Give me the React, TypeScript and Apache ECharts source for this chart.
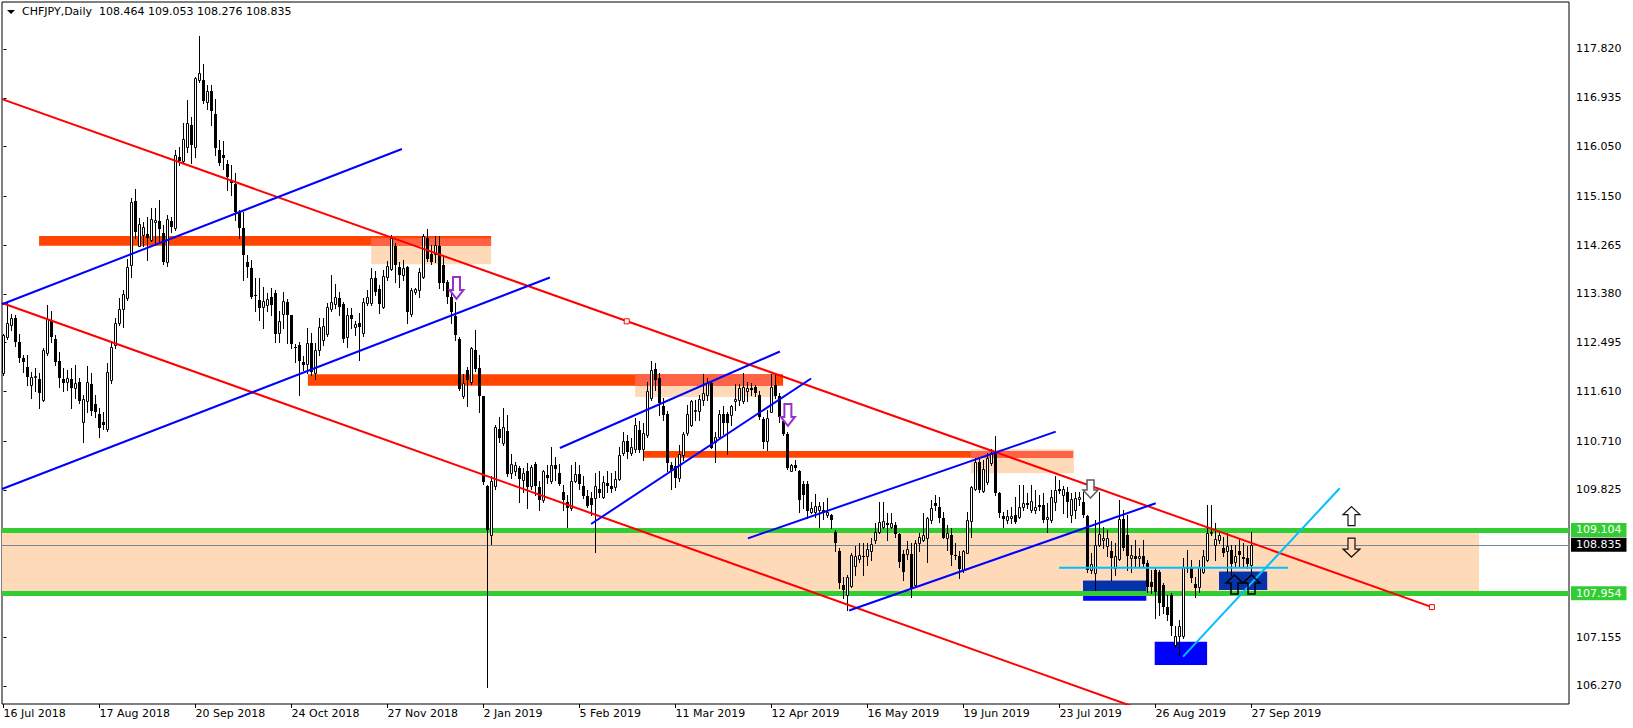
import React, { useEffect, useRef } from "react";
import * as echarts from "echarts";

// ---------- header ----------
const SYMBOL = "CHFJPY,Daily";
const LAST_OHLC = [108.464, 109.053, 108.276, 108.835];

// ---------- axes ----------
const X_MIN = -0.375;
const X_MAX = 391.375;
const Y_MIN = 105.943;
const Y_MAX = 118.672;
const X_TICK_INDEX = [0, 24, 48, 72, 96, 120, 144, 168, 192, 216, 240, 264, 288, 312];
const X_TICK_LABELS = [
  "16 Jul 2018", "17 Aug 2018", "20 Sep 2018", "24 Oct 2018", "27 Nov 2018", "2 Jan 2019",
  "5 Feb 2019", "11 Mar 2019", "12 Apr 2019", "16 May 2019", "19 Jun 2019", "23 Jul 2019",
  "26 Aug 2019", "27 Sep 2019",
];
const Y_TICKS = [117.82, 116.935, 116.05, 115.15, 114.265, 113.38, 112.495, 111.61, 110.71, 109.825, 108.955, 108.055, 107.155, 106.27];
const Y_LABELS = [117.82, 116.935, 116.05, 115.15, 114.265, 113.38, 112.495, 111.61, 110.71, 109.825, 107.155, 106.27];

// ---------- daily candles [open, high, low, close] ----------
const OHLC: number[][] = [
  // 0
  [111.94, 112.66, 111.91, 112.63], [112.60, 113.25, 112.57, 112.85], [112.82, 113.01, 112.73, 112.94], [112.95, 113.00, 112.44, 112.51], [112.50, 112.66, 112.15, 112.22],
  [112.22, 112.28, 111.97, 112.14], [112.06, 112.28, 111.73, 111.87], [111.72, 111.97, 111.50, 111.88], [111.87, 112.03, 111.61, 111.89], [111.84, 111.94, 111.31, 111.58],
  // 10
  [111.46, 112.39, 111.44, 112.36], [112.30, 113.18, 112.27, 112.92], [112.91, 113.06, 112.51, 112.59], [112.57, 112.63, 112.09, 112.14], [112.16, 112.33, 111.70, 111.86],
  [111.84, 112.03, 111.61, 111.76], [111.78, 112.00, 111.64, 111.85], [111.84, 112.03, 111.31, 111.68], [111.68, 112.09, 111.49, 111.76], [111.78, 111.85, 111.40, 111.44],
  // 20
  [111.05, 111.55, 110.70, 111.47], [111.44, 112.08, 111.24, 111.78], [111.74, 111.94, 111.18, 111.26], [111.38, 111.55, 111.15, 111.23], [111.21, 111.31, 110.79, 110.95],
  [111.06, 111.24, 110.93, 111.01], [110.93, 112.12, 110.89, 111.96], [111.82, 112.48, 111.76, 112.42], [112.45, 112.94, 112.40, 112.85], [112.85, 113.30, 112.82, 113.11],
  // 30
  [113.11, 113.45, 112.77, 113.37], [113.31, 114.02, 113.27, 113.86], [113.90, 115.11, 113.69, 115.05], [115.06, 115.28, 114.39, 114.50], [114.25, 114.75, 114.24, 114.64],
  [114.45, 114.69, 114.25, 114.60], [114.46, 114.78, 113.99, 114.40], [114.36, 114.93, 114.34, 114.74], [114.69, 114.93, 114.27, 114.72], [114.70, 115.08, 114.33, 114.56],
  // 40
  [114.48, 114.63, 113.92, 113.96], [113.95, 114.81, 113.89, 114.74], [114.70, 114.78, 114.51, 114.60], [114.58, 115.99, 114.54, 115.89], [115.87, 116.05, 115.72, 115.78],
  [115.78, 116.47, 115.77, 116.19], [116.05, 116.90, 115.96, 116.47], [116.44, 116.59, 115.75, 116.07], [116.05, 117.32, 115.87, 117.30], [117.26, 118.06, 117.22, 117.38],
  // 50
  [117.26, 117.54, 116.84, 116.88], [116.85, 117.17, 116.74, 117.06], [117.06, 117.17, 116.44, 116.70], [116.64, 116.91, 115.90, 116.02], [115.99, 116.17, 115.72, 115.75],
  [115.90, 116.15, 115.64, 115.84], [115.73, 115.81, 115.26, 115.49], [115.42, 115.72, 115.17, 115.39], [115.38, 115.58, 114.72, 114.87], [114.87, 114.90, 114.39, 114.57],
  // 60
  [114.57, 114.86, 113.63, 114.09], [113.96, 114.09, 113.69, 113.86], [113.84, 113.99, 113.31, 113.33], [113.36, 113.67, 113.06, 113.34], [113.27, 113.66, 112.91, 113.13],
  [113.15, 113.51, 112.76, 113.25], [113.17, 113.39, 113.07, 113.29], [113.33, 113.48, 113.00, 113.17], [113.39, 113.45, 112.50, 112.65], [112.67, 113.06, 112.51, 112.89],
  // 70
  [113.01, 113.42, 112.76, 113.25], [113.24, 113.29, 112.48, 113.00], [112.99, 113.00, 112.39, 112.47], [112.42, 112.47, 112.15, 112.41], [112.45, 112.50, 111.55, 112.16],
  [112.15, 112.25, 112.00, 112.09], [112.10, 112.76, 111.94, 112.48], [112.48, 112.67, 111.91, 111.96], [111.94, 112.48, 111.84, 112.36], [112.36, 112.95, 112.27, 112.77],
  // 80
  [112.54, 112.94, 112.45, 112.79], [112.65, 113.21, 112.62, 113.15], [113.11, 113.73, 113.07, 113.24], [113.19, 113.55, 113.12, 113.33], [113.30, 113.42, 113.00, 113.15],
  [113.19, 113.24, 112.51, 112.57], [112.59, 113.12, 112.42, 113.00], [113.00, 113.12, 112.76, 112.92], [112.77, 112.88, 112.63, 112.83], [112.85, 113.03, 112.18, 112.77],
  // 90
  [112.67, 113.31, 112.62, 113.24], [113.21, 113.45, 113.18, 113.33], [113.21, 113.84, 113.18, 113.67], [113.66, 113.80, 113.36, 113.42], [113.46, 113.54, 113.03, 113.19],
  [113.15, 113.81, 113.13, 113.71], [113.69, 113.98, 113.63, 113.89], [113.83, 114.45, 113.81, 114.40], [114.25, 114.30, 113.60, 113.90], [113.86, 113.96, 113.51, 113.72],
  // 100
  [113.72, 113.99, 113.63, 113.84], [113.86, 113.89, 112.86, 113.05], [113.01, 113.49, 112.97, 113.45], [113.41, 113.49, 113.38, 113.47], [113.45, 113.84, 113.33, 113.77],
  [113.69, 114.46, 113.67, 114.42], [114.39, 114.55, 113.98, 114.01], [114.10, 114.27, 113.92, 113.96], [114.10, 114.42, 113.96, 114.27], [114.25, 114.42, 113.48, 113.57],
  // 110
  [113.90, 114.06, 113.45, 113.57], [113.59, 113.63, 113.21, 113.33], [113.33, 113.39, 112.85, 113.05], [112.97, 113.24, 112.54, 112.63], [112.56, 112.60, 111.64, 111.66],
  [111.53, 111.92, 111.50, 111.76], [112.00, 112.06, 111.35, 111.82], [111.79, 112.42, 111.74, 112.39], [112.36, 112.73, 111.98, 112.02], [112.03, 112.27, 111.24, 111.52],
  // 120
  [111.52, 111.52, 109.93, 109.96], [109.90, 109.92, 106.25, 109.10], [109.00, 110.07, 108.85, 109.98], [109.89, 111.00, 109.85, 110.97], [110.93, 111.15, 110.70, 110.76],
  [110.67, 111.31, 110.64, 110.97], [110.89, 111.18, 110.07, 110.11], [110.13, 110.47, 110.04, 110.29], [110.16, 110.33, 110.10, 110.27], [110.23, 110.25, 109.61, 110.02],
  // 130
  [110.01, 110.22, 109.79, 110.13], [110.16, 110.31, 109.49, 109.87], [109.89, 110.28, 109.84, 110.24], [110.29, 110.33, 109.73, 109.89], [109.87, 109.98, 109.46, 109.64],
  [109.64, 110.19, 109.61, 110.16], [110.10, 110.28, 109.95, 110.05], [109.98, 110.61, 109.95, 110.28], [110.27, 110.43, 110.01, 110.20], [110.13, 110.29, 109.92, 109.93],
  // 140
  [109.79, 109.92, 109.46, 109.64], [109.61, 109.73, 109.16, 109.50], [109.49, 110.28, 109.46, 109.98], [109.99, 110.33, 109.96, 110.11], [110.11, 110.28, 109.85, 109.93],
  [109.90, 110.07, 109.67, 109.72], [109.72, 109.82, 109.52, 109.54], [109.67, 109.79, 109.37, 109.55], [109.67, 110.13, 108.70, 109.90], [109.85, 110.16, 109.70, 109.76],
  // 150
  [109.70, 110.07, 109.67, 109.96], [109.95, 110.16, 109.79, 109.89], [109.89, 110.14, 109.79, 109.85], [109.87, 110.16, 109.82, 110.02], [110.02, 110.61, 110.01, 110.45],
  [110.49, 110.87, 110.46, 110.71], [110.71, 110.82, 110.40, 110.52], [110.49, 110.76, 110.46, 110.61], [110.57, 111.12, 110.52, 111.00], [110.91, 111.08, 110.51, 110.55],
  // 160
  [110.57, 111.03, 110.37, 110.85], [110.82, 111.79, 110.79, 111.61], [111.49, 112.16, 111.46, 112.00], [112.02, 112.12, 111.64, 111.82], [111.85, 111.94, 111.18, 111.40],
  [111.34, 111.49, 111.09, 111.18], [111.20, 111.26, 110.16, 110.31], [110.27, 110.34, 109.85, 110.17], [110.25, 110.40, 109.88, 110.05], [110.05, 110.64, 109.98, 110.47],
  // 170
  [110.46, 110.88, 110.37, 110.83], [110.85, 111.37, 110.82, 111.21], [111.01, 111.46, 110.99, 111.44], [111.26, 111.46, 111.09, 111.27], [111.26, 111.55, 111.09, 111.47],
  [111.46, 111.92, 111.37, 111.59], [111.55, 111.85, 111.46, 111.76], [111.76, 111.79, 110.58, 110.59], [110.69, 110.88, 110.34, 110.79], [110.79, 111.27, 110.76, 111.21],
  // 180
  [111.21, 111.35, 110.83, 111.03], [111.20, 111.23, 110.47, 111.03], [111.18, 111.37, 111.00, 111.35], [111.43, 111.74, 111.27, 111.47], [111.46, 111.74, 111.37, 111.67],
  [111.43, 111.94, 111.40, 111.70], [111.61, 111.79, 111.43, 111.68], [111.68, 111.76, 111.55, 111.64], [111.70, 111.73, 111.52, 111.58], [111.55, 111.62, 111.11, 111.14],
  // 190
  [111.11, 111.14, 110.59, 110.69], [110.71, 111.27, 110.55, 111.12], [111.24, 111.92, 111.23, 111.70], [111.73, 111.92, 111.49, 111.52], [111.52, 111.59, 111.06, 111.15],
  [111.08, 111.15, 110.82, 110.83], [110.83, 110.87, 110.20, 110.22], [110.17, 110.29, 110.16, 110.27], [110.28, 110.37, 110.19, 110.22], [110.17, 110.19, 109.43, 109.64],
  // 200
  [109.94, 109.98, 109.49, 109.73], [109.93, 109.98, 109.31, 109.44], [109.43, 109.61, 109.40, 109.50], [109.42, 109.75, 109.34, 109.54], [109.46, 109.61, 109.16, 109.54],
  [109.46, 109.61, 109.30, 109.40], [109.37, 109.67, 109.34, 109.43], [109.37, 109.38, 109.14, 109.28], [109.07, 109.10, 108.71, 108.86], [108.71, 108.77, 108.04, 108.13],
  // 210
  [108.10, 108.25, 107.86, 108.01], [107.92, 108.28, 107.65, 108.25], [108.08, 108.68, 108.07, 108.65], [108.45, 108.80, 108.28, 108.62], [108.58, 108.86, 108.52, 108.65],
  [108.63, 108.87, 108.28, 108.60], [108.62, 108.87, 108.46, 108.75], [108.71, 108.95, 108.55, 108.84], [108.91, 109.22, 108.86, 109.07], [109.07, 109.61, 109.04, 109.25],
  // 220
  [109.16, 109.61, 109.13, 109.27], [109.22, 109.40, 108.92, 109.19], [109.16, 109.40, 109.13, 109.22], [109.19, 109.25, 108.98, 109.03], [109.03, 109.05, 108.43, 108.51],
  [108.66, 108.74, 108.19, 108.34], [108.66, 108.89, 108.58, 108.75], [108.66, 108.87, 107.89, 108.02], [108.10, 108.92, 108.07, 108.86], [108.86, 109.04, 108.71, 108.98],
  // 230
  [108.92, 109.40, 108.89, 109.01], [108.95, 109.34, 108.52, 109.31], [109.28, 109.64, 109.22, 109.49], [109.58, 109.73, 109.46, 109.54], [109.52, 109.70, 109.25, 109.31],
  [109.31, 109.43, 108.95, 108.95], [108.95, 109.19, 108.74, 109.05], [109.01, 109.13, 108.46, 108.65], [108.65, 108.86, 108.58, 108.62], [108.63, 108.71, 108.22, 108.39],
  // 240
  [108.37, 108.74, 108.33, 108.71], [108.69, 109.43, 108.68, 109.28], [109.27, 109.90, 108.98, 109.87], [109.85, 110.40, 109.82, 110.34], [110.34, 110.40, 109.79, 109.82],
  [109.81, 110.37, 109.79, 110.20], [109.96, 110.49, 109.94, 110.40], [110.31, 110.56, 110.28, 110.50], [110.50, 110.80, 109.73, 109.76], [109.76, 109.79, 109.34, 109.40],
  // 250
  [109.35, 109.43, 109.16, 109.29], [109.28, 109.46, 109.22, 109.35], [109.31, 109.52, 109.22, 109.35], [109.37, 109.70, 109.22, 109.25], [109.34, 109.91, 109.31, 109.52],
  [109.51, 109.91, 109.46, 109.58], [109.58, 109.76, 109.49, 109.55], [109.46, 109.91, 109.43, 109.63], [109.46, 109.82, 109.40, 109.52], [109.55, 109.73, 109.46, 109.52],
  // 260
  [109.55, 109.76, 109.25, 109.28], [109.29, 109.58, 109.07, 109.33], [109.28, 109.82, 109.25, 109.69], [109.61, 110.07, 109.46, 109.82], [109.85, 110.01, 109.76, 109.81],
  [109.73, 109.90, 109.40, 109.84], [109.79, 109.88, 109.34, 109.61], [109.37, 109.76, 109.25, 109.66], [109.46, 109.79, 109.31, 109.67], [109.66, 109.79, 109.55, 109.69],
  // 270
  [109.61, 109.79, 109.34, 109.37], [109.35, 109.37, 108.34, 108.37], [108.37, 108.68, 108.31, 108.48], [108.31, 109.28, 108.01, 108.83], [108.83, 109.79, 108.80, 109.03],
  [108.92, 109.16, 108.77, 108.95], [108.80, 109.10, 108.62, 108.95], [108.71, 108.89, 108.19, 108.59], [108.40, 108.86, 108.28, 108.62], [108.57, 109.64, 108.56, 109.29],
  // 280
  [109.29, 109.46, 108.74, 108.77], [109.01, 109.37, 108.37, 108.62], [108.59, 108.83, 108.34, 108.65], [108.63, 108.92, 108.43, 108.57], [108.59, 108.77, 108.43, 108.63],
  [108.62, 108.92, 108.43, 108.48], [108.50, 108.56, 107.98, 108.07], [108.16, 108.37, 107.95, 108.06], [108.37, 108.40, 107.50, 107.98], [108.34, 108.37, 107.56, 107.77],
  // 290
  [108.10, 108.13, 107.59, 107.71], [107.71, 107.92, 107.47, 107.56], [107.92, 107.95, 107.20, 107.35], [107.01, 107.35, 106.98, 107.17], [107.17, 107.47, 106.83, 107.35],
  [107.17, 108.59, 107.14, 108.42], [108.40, 108.74, 108.34, 108.43], [108.42, 108.56, 108.16, 108.22], [108.12, 108.25, 107.89, 108.04], [108.07, 108.56, 107.98, 108.43],
  // 300
  [108.34, 108.74, 108.31, 108.62], [108.56, 109.55, 108.53, 109.05], [109.04, 109.55, 109.01, 109.07], [108.83, 109.22, 108.56, 108.93], [108.92, 109.07, 108.86, 109.01],
  [108.78, 108.98, 108.62, 108.69], [108.71, 109.04, 108.34, 108.80], [108.74, 108.83, 108.28, 108.49], [108.51, 108.83, 108.43, 108.63], [108.71, 108.95, 108.43, 108.65],
  // 310
  [108.60, 108.86, 108.43, 108.57], [108.59, 108.80, 108.40, 108.49], [108.464, 109.053, 108.276, 108.835],
];

// ---------- horizontal levels ----------
const LEVEL_UPPER = 109.104;
const LEVEL_LOWER = 107.954;
const BID = 108.835;

// ---------- drawn objects, in [bar index, price] ----------
const RED_LINES = [
  [-0.375, 116.91, 357.1, 107.70],
  [-0.375, 113.214, 290, 105.70],
];
const RED_ANCHORS = [[155.8, 112.882], [357.1, 107.70]];
const BLUE_LINES = [
  [-0.375, 113.191, 99.6, 116.007],
  [-0.375, 109.842, 136.6, 113.677],
  [139.1, 110.585, 194.1, 112.335],
  [146.9, 109.207, 201.9, 111.845],
  [186.1, 108.946, 263.05, 110.881],
  [211.4, 107.639, 288.05, 109.583],
];
const CYAN_LINES = [
  [294.9, 106.801, 334.05, 109.855],
  [263.9, 108.415, 321.1, 108.415],
];
// zones: [fromBar, toBar, topPrice, bottomPrice]
const ORANGE_ZONES = [
  [8.9, 121.9, 114.429, 114.253],
  [76.1, 194.9, 111.922, 111.715],
  [160.05, 267.4, 110.531, 110.409],
];
const PEACH_ZONES = [
  [91.9, 121.9, 114.388, 113.916],
  [157.9, 192.9, 111.922, 111.51],
  [241.8, 267.6, 110.562, 110.127],
  [-0.375, 368.9, LEVEL_UPPER, LEVEL_LOWER],
];
const BLUE_ZONES = [
  [269.9, 285.7, 108.179, 107.817],
  [287.8, 300.9, 107.073, 106.651],
  [303.9, 315.9, 108.342, 108.01],
];
// arrows: [bar index, price at arrow top]
const PURPLE_DOWN_ARROWS = [[113.25, 113.686], [196.1, 111.383]];
const GRAY_DOWN_ARROWS = [[271.75, 110.005]];
const BLACK_UP_ARROWS = [[307.75, 108.282], [312.0, 108.282]];
const WHITE_UP_ARROWS = [[337.0, 109.521]];
const PEACH_DOWN_ARROWS = [[337.0, 108.952]];

const FONT = "DejaVu Sans";
const C_ORANGE = "#FF4500";
const C_PEACH = "#FFDAB9";
const C_TOMATO = "#FF6347";
const C_BLUE = "#0000FF";
const C_DARKBLUE = "#0633AA";
const C_GREEN = "#32CD32";
const C_CYAN = "#00BFFF";
const C_RED = "#FF0000";

function intersect(a: number[], b: number[]) {
  const x1 = Math.max(a[0], b[0]);
  const x2 = Math.min(a[1], b[1]);
  const top = Math.min(a[2], b[2]);
  const bot = Math.max(a[3], b[3]);
  return x1 < x2 && bot < top ? [x1, x2, top, bot] : null;
}

function overlaps(list: number[][], others: number[][]) {
  const out: number[][] = [];
  list.forEach((a) => others.forEach((b) => {
    const r = intersect(a, b);
    if (r) out.push(r);
  }));
  return out;
}

function zoneSeries(data: number[][], color: string, z: number) {
  return {
    type: "custom",
    silent: true,
    z,
    clip: true,
    data,
    encode: { x: [0, 1], y: [2, 3] },
    renderItem: (_p: any, api: any) => {
      const a = api.coord([api.value(0), api.value(2)]);
      const b = api.coord([api.value(1), api.value(3)]);
      return {
        type: "rect",
        shape: { x: a[0], y: a[1], width: b[0] - a[0], height: b[1] - a[1] },
        style: { fill: color },
      };
    },
  };
}

function lineSeries(seg: number[], color: string, z: number) {
  return {
    type: "line",
    silent: true,
    z,
    symbol: "none",
    showSymbol: false,
    clip: true,
    data: [[seg[0], seg[1]], [seg[2], seg[3]]],
    lineStyle: { color, width: 2 },
  };
}

function arrowPoints(cx: number, top: number, w: number, h: number, hh: number, sw: number, up: boolean) {
  if (up) {
    return [
      [cx, top], [cx + w / 2, top + hh], [cx + sw / 2, top + hh], [cx + sw / 2, top + h],
      [cx - sw / 2, top + h], [cx - sw / 2, top + hh], [cx - w / 2, top + hh],
    ];
  }
  const b = top + h;
  return [
    [cx, b], [cx + w / 2, b - hh], [cx + sw / 2, b - hh], [cx + sw / 2, top],
    [cx - sw / 2, top], [cx - sw / 2, b - hh], [cx - w / 2, b - hh],
  ];
}

function arrowSeries(data: number[][], up: boolean, size: number[], stroke: string, fill: string, lw: number) {
  return {
    type: "custom",
    silent: true,
    z: 12,
    data,
    encode: { x: 0, y: 1 },
    renderItem: (_p: any, api: any) => {
      const c = api.coord([api.value(0), api.value(1)]);
      return {
        type: "polygon",
        shape: { points: arrowPoints(c[0], c[1], size[0], size[1], size[2], size[3], up) },
        style: { fill, stroke, lineWidth: lw },
      };
    },
  };
}

function renderCandle(_p: any, api: any) {
  const i = api.value(0);
  const o = api.value(1), h = api.value(2), l = api.value(3), c = api.value(4);
  const ph = api.coord([i, h]);
  const pl = api.coord([i, l]);
  const po = api.coord([i, o]);
  const pc = api.coord([i, c]);
  const x = Math.floor(ph[0]) + 0.5;
  const yH = Math.round(ph[1]);
  const yL = Math.round(pl[1]);
  const yTop = Math.round(Math.min(po[1], pc[1]));
  const yBot = Math.round(Math.max(po[1], pc[1]));
  const children: any[] = [
    { type: "line", shape: { x1: x, y1: yH, x2: x, y2: yL + 1 }, style: { stroke: "#000", lineWidth: 1 } },
  ];
  if (c >= o) {
    children.push({
      type: "rect",
      shape: { x: x - 1, y: yTop + 0.5, width: 2, height: Math.max(yBot - yTop, 1) },
      style: { fill: "#fff", stroke: "#000", lineWidth: 1 },
    });
  } else {
    children.push({
      type: "rect",
      shape: { x: x - 1.5, y: yTop, width: 3, height: Math.max(yBot - yTop, 1) },
      style: { fill: "#000" },
    });
  }
  return { type: "group", children };
}

function levelLabel(value: number, bg: string) {
  return {
    show: true,
    position: "end",
    distance: 2,
    formatter: value.toFixed(3),
    color: "#fff",
    backgroundColor: bg,
    padding: [1, 5, 1, 5],
    fontFamily: FONT,
    fontSize: 11,
    lineHeight: 12,
  };
}

export default function App() {
  const ref = useRef<HTMLDivElement | null>(null);

  useEffect(() => {
    if (!ref.current) return;
    const chart = echarts.init(ref.current, undefined, { renderer: "svg" });

    const candleData = OHLC.map((d, i) => [i, d[0], d[1], d[2], d[3]]);
    const orangeOnPeach = overlaps(ORANGE_ZONES, PEACH_ZONES.slice(0, 3));
    const blueOnPeach = overlaps(BLUE_ZONES, PEACH_ZONES.slice(3));

    const series: any[] = [
      zoneSeries(PEACH_ZONES, C_PEACH, 1),
      zoneSeries(ORANGE_ZONES, C_ORANGE, 2),
      zoneSeries(orangeOnPeach, C_TOMATO, 3),
      zoneSeries(BLUE_ZONES, C_BLUE, 2),
      zoneSeries(blueOnPeach, C_DARKBLUE, 3),
      {
        type: "custom",
        silent: true,
        z: 5,
        clip: true,
        data: candleData,
        encode: { x: 0, y: [1, 2, 3, 4] },
        renderItem: renderCandle,
      },
      ...RED_LINES.map((s) => lineSeries(s, C_RED, 9)),
      ...BLUE_LINES.map((s) => lineSeries(s, C_BLUE, 9)),
      ...CYAN_LINES.map((s) => lineSeries(s, C_CYAN, 9)),
      {
        type: "scatter",
        silent: true,
        z: 11,
        symbol: "rect",
        symbolSize: 5,
        data: RED_ANCHORS,
        itemStyle: { color: "#fff", borderColor: C_RED, borderWidth: 1, opacity: 1 },
        markLine: {
          silent: true,
          symbol: ["none", "none"],
          animation: false,
          data: [
            { yAxis: BID, lineStyle: { color: "#778899", width: 1, type: "solid" }, label: levelLabel(BID, "#000") },
            { yAxis: LEVEL_UPPER, lineStyle: { color: C_GREEN, width: 5, type: "solid" }, label: levelLabel(LEVEL_UPPER, C_GREEN) },
            { yAxis: LEVEL_LOWER, lineStyle: { color: C_GREEN, width: 5, type: "solid" }, label: levelLabel(LEVEL_LOWER, C_GREEN) },
          ],
        },
      },
      arrowSeries(PURPLE_DOWN_ARROWS, false, [14, 22, 9, 7], "#9932CC", "#fff", 2),
      arrowSeries(GRAY_DOWN_ARROWS, false, [15, 18, 8, 7], "#5a5a5a", "#fff", 1.5),
      arrowSeries(BLACK_UP_ARROWS, true, [17, 19, 8, 7], "#000", "none", 1.5),
      arrowSeries(WHITE_UP_ARROWS, true, [17, 19, 8, 7], "#111", "#fff", 1.2),
      arrowSeries(PEACH_DOWN_ARROWS, false, [17, 19, 8, 7], "#111", C_PEACH, 1.2),
    ];

    chart.setOption({
      animation: false,
      backgroundColor: "#fff",
      grid: {
        show: true,
        left: 2,
        right: 64,
        top: 2,
        bottom: 24,
        borderColor: "#000",
        borderWidth: 1,
        backgroundColor: "#fff",
        containLabel: false,
        outerBoundsMode: "none",
      },
      xAxis: {
        type: "value",
        min: X_MIN,
        max: X_MAX,
        position: "bottom",
        axisLine: { show: false },
        splitLine: { show: false },
        axisTick: { show: true, customValues: X_TICK_INDEX, length: 4, lineStyle: { color: "#000" } },
        axisLabel: {
          show: true,
          customValues: X_TICK_INDEX,
          formatter: (v: number) => X_TICK_LABELS[X_TICK_INDEX.indexOf(Math.round(v))] ?? "",
          align: "left",
          margin: 4,
          color: "#000",
          fontFamily: FONT,
          fontSize: 11,
        },
      },
      yAxis: {
        type: "value",
        position: "right",
        min: Y_MIN,
        max: Y_MAX,
        scale: true,
        axisLine: { show: false },
        splitLine: { show: false },
        axisTick: { show: true, customValues: Y_TICKS, length: 3, lineStyle: { color: "#000" } },
        axisLabel: {
          show: true,
          customValues: Y_LABELS,
          formatter: (v: number) => v.toFixed(3),
          margin: 7,
          color: "#000",
          fontFamily: FONT,
          fontSize: 11,
        },
      },
      graphic: [
        { type: "polygon", silent: true, shape: { points: [[7, 10], [15, 10], [11, 14]] }, style: { fill: "#000" } },
        {
          type: "text",
          silent: true,
          x: 22,
          y: 6,
          style: {
            text: `${SYMBOL}\u00a0\u00a0${LAST_OHLC.map((v) => v.toFixed(3)).join(" ")}`,
            fill: "#000",
            fontFamily: FONT,
            fontSize: 11,
            verticalAlign: "top",
          },
        },
      ],
      series,
    });

    return () => chart.dispose();
  }, []);

  return (
    <div
      ref={ref}
      style={{ position: "fixed", left: 0, top: 0, width: 1633, height: 728, background: "#fff" }}
    />
  );
}
